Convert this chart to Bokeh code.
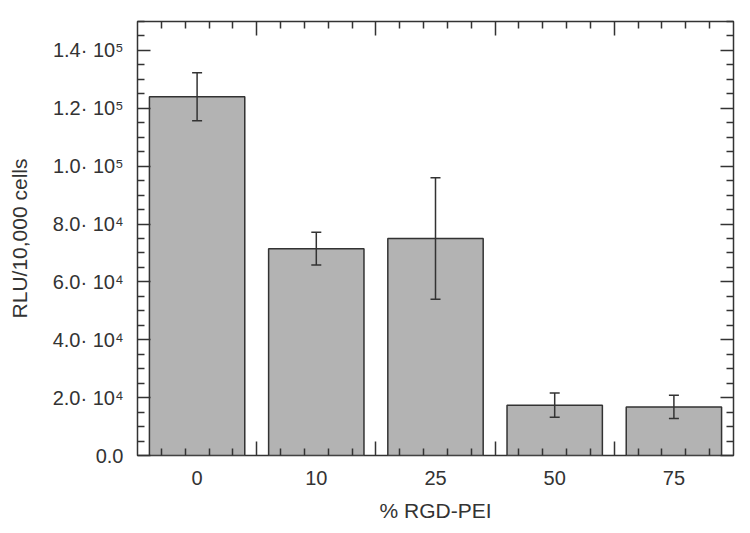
from bokeh.plotting import figure
from bokeh.models import (Range1d, LinearAxis, FixedTicker, Whisker,
                          TeeHead, ColumnDataSource, CustomJSTickFormatter)
from bokeh.embed import file_html
from bokeh.resources import INLINE

# ---- data ----
categories = ["0", "10", "25", "50", "75"]
rlu_mean = [124000, 71500, 75000, 17400, 16800]
rlu_err = [8300, 5700, 21000, 4200, 4000]

y_ticks = [0, 20000, 40000, 60000, 80000, 100000, 120000, 140000]
y_tick_labels = ["0.0", "2.0· 10⁴", "4.0· 10⁴", "6.0· 10⁴", "8.0· 10⁴",
                 "1.0· 10⁵", "1.2· 10⁵", "1.4· 10⁵"]
y_max = 150000

x_label = "% RGD-PEI"
y_label = "RLU/10,000 cells"

# ---- styling ----
FONT = "Liberation Sans"
INK = "#333333"
BAR = "#b3b3b3"

n = len(categories)
pos = list(range(n))
y_minor = [v for v in range(0, y_max + 1, 5000) if v not in y_ticks]
x_major = [i + 0.5 for i in range(n - 1)]
x_minor = [round(-0.5 + i / 5, 3) for i in range(1, 5 * n) if i % 5 != 0]

src = ColumnDataSource(dict(
    x=pos,
    top=rlu_mean,
    upper=[m + e for m, e in zip(rlu_mean, rlu_err)],
    lower=[m - e for m, e in zip(rlu_mean, rlu_err)],
))

p = figure(x_range=Range1d(-0.5, n - 0.5), y_range=Range1d(0, y_max),
           width=750, height=533, output_backend="svg", toolbar_location=None,
           min_border_left=137, min_border_right=17, min_border_top=21,
           min_border_bottom=78)
p.xgrid.visible = False
p.ygrid.visible = False
p.outline_line_color = INK
p.outline_line_width = 1.5
p.background_fill_color = "white"
p.border_fill_color = "white"

p.vbar(x="x", top="top", width=0.8, source=src, fill_color=BAR,
       line_color=INK, line_width=1.5)

w = Whisker(base="x", upper="upper", lower="lower", source=src,
            line_color=INK, line_width=1.5, level="overlay",
            upper_head=TeeHead(size=10, line_color=INK, line_width=1.5),
            lower_head=TeeHead(size=10, line_color=INK, line_width=1.5))
p.add_layout(w)

blank = CustomJSTickFormatter(code="return ''")

# left axis
ya = p.yaxis[0]
ya.ticker = FixedTicker(ticks=y_ticks, minor_ticks=y_minor)
ya.major_label_overrides = {t: l for t, l in zip(y_ticks, y_tick_labels)}
ya.major_tick_in = 13
ya.major_tick_out = 0
ya.minor_tick_in = 7
ya.minor_tick_out = 0
ya.major_tick_line_color = INK
ya.minor_tick_line_color = INK
ya.major_tick_line_width = 1.5
ya.minor_tick_line_width = 1.5
ya.axis_line_color = None
ya.major_label_standoff = 14
ya.major_label_text_font = FONT
ya.major_label_text_font_size = "20px"
ya.major_label_text_color = INK
ya.axis_label = y_label
ya.axis_label_text_font = FONT
ya.axis_label_text_font_size = "21px"
ya.axis_label_text_font_style = "normal"
ya.axis_label_text_color = INK
ya.axis_label_standoff = 19

# right axis (ticks only)
ra = LinearAxis(ticker=FixedTicker(ticks=y_ticks, minor_ticks=y_minor),
                formatter=blank, major_tick_in=13, major_tick_out=0,
                minor_tick_in=7, minor_tick_out=0, major_label_standoff=0,
                major_tick_line_color=INK, minor_tick_line_color=INK,
                major_tick_line_width=1.5, minor_tick_line_width=1.5,
                axis_line_color=None, major_label_text_font_size="0px")
p.add_layout(ra, "right")

# bottom axis with category labels only
xa = p.xaxis[0]
xa.ticker = FixedTicker(ticks=pos, minor_ticks=[])
xa.major_label_overrides = {i: c for i, c in zip(pos, categories)}
xa.major_tick_line_color = None
xa.minor_tick_line_color = None
xa.axis_line_color = None
xa.major_tick_in = 0
xa.major_tick_out = 0
xa.major_label_standoff = 15
xa.major_label_text_font = FONT
xa.major_label_text_font_size = "20px"
xa.major_label_text_color = INK
xa.axis_label = x_label
xa.axis_label_text_font = FONT
xa.axis_label_text_font_size = "21px"
xa.axis_label_text_font_style = "normal"
xa.axis_label_text_color = INK
xa.axis_label_standoff = 11


def tick_axis():
    return LinearAxis(ticker=FixedTicker(ticks=x_major, minor_ticks=x_minor),
                      formatter=blank, major_tick_in=14, major_tick_out=0,
                      minor_tick_in=7, minor_tick_out=0, major_label_standoff=0,
                      major_tick_line_color=INK, minor_tick_line_color=INK,
                      major_tick_line_width=1.5, minor_tick_line_width=1.5,
                      axis_line_color=None, major_label_text_font_size="0px")


bt = tick_axis()
p.below = [bt, xa]
p.add_layout(tick_axis(), "above")

open("out.html", "w").write(file_html(p, INLINE))
